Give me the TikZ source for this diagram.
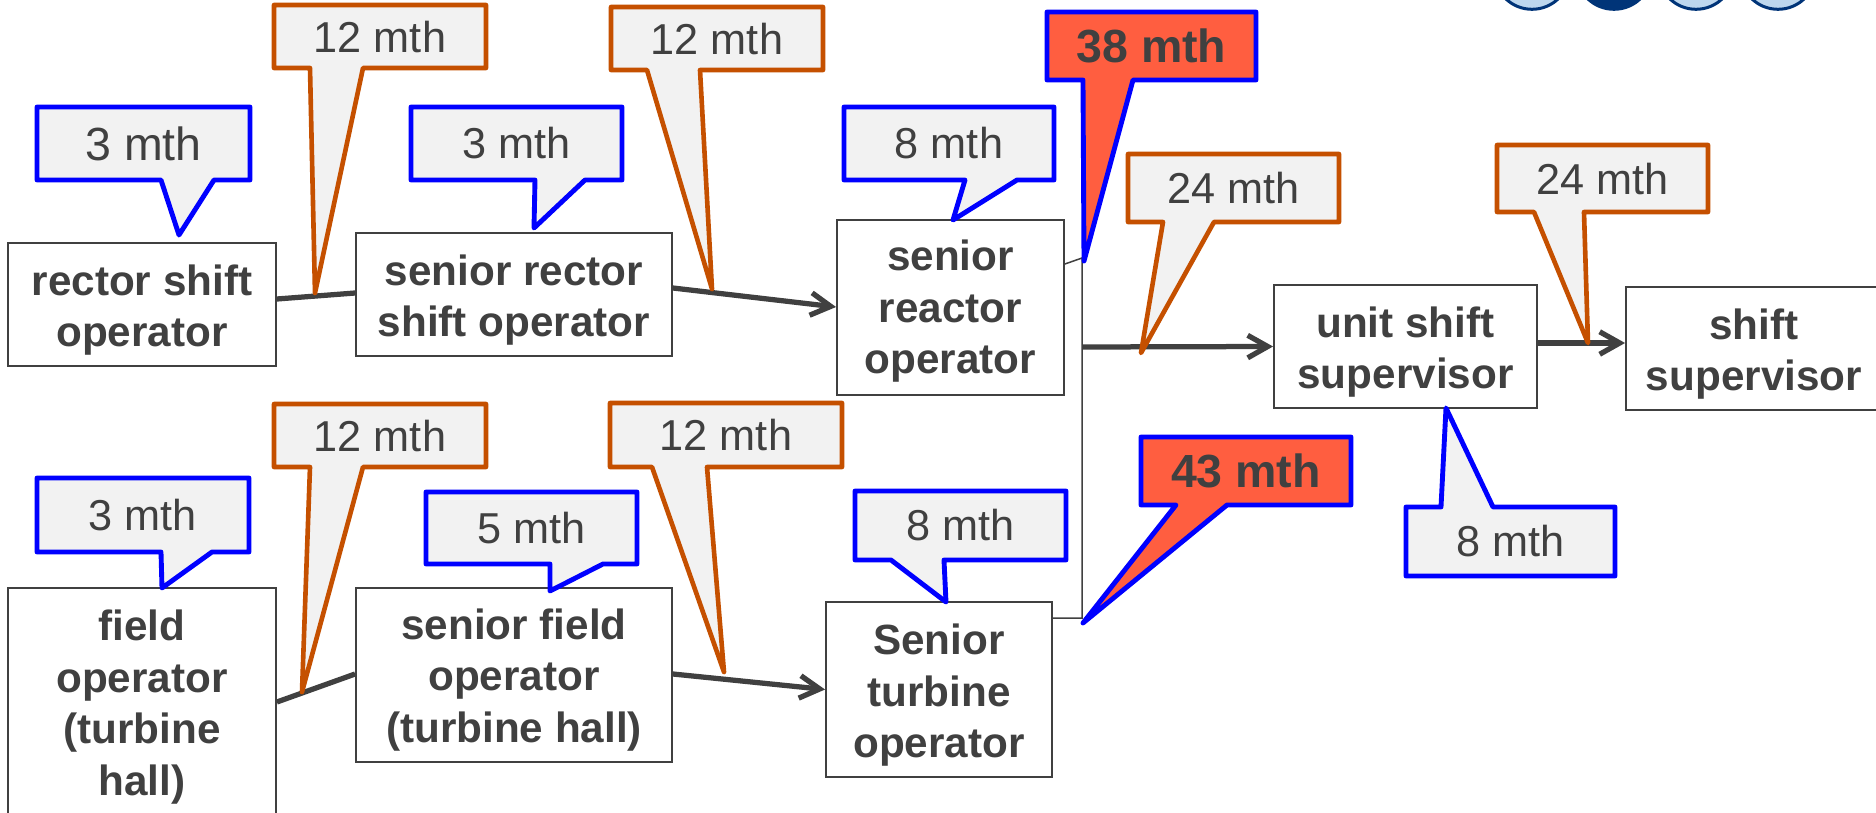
\documentclass[tikz,border=0pt]{standalone}
\usepackage{fontspec}
\setmainfont{Liberation Sans}
\usetikzlibrary{arrows.meta}
\definecolor{txt}{HTML}{404040}
\definecolor{cfill}{HTML}{F2F2F2}
\definecolor{cblue}{HTML}{0000FF}
\definecolor{corange}{HTML}{C55000}
\definecolor{cred}{HTML}{FF5E40}
\definecolor{navy}{HTML}{003478}
\definecolor{lblue}{HTML}{BDD7EE}
\definecolor{boxline}{HTML}{404040}
\def\u{0.4pt}
\newcommand\callD[9]{%
  \draw[#1] (#3,#4) -- (#5,#4) -- (#5,#6) -- (#8,#6) -- #9 -- (#7,#6) -- (#3,#6) -- cycle;
  \coordinate (#2) at ({(#3+#5)/2},{(#4+#6)/2});}
\tikzset{
 box/.style={draw=boxline, line width=0.75pt, fill=white, inner sep=0pt},
 boxtext/.style={inner sep=0pt, align=center, text=txt,
   font=\bfseries\fontsize{16.9}{20.6}\selectfont},
 conn/.style={draw=txt, line width=2.1pt},
 arr/.style={conn, -{Straight Barb[length=8pt,width=9pt]}},
 thinconn/.style={draw=boxline, line width=0.6pt},
 bluecall/.style={fill=cfill, draw=cblue, line width=1.95pt, line join=round},
 orcall/.style={fill=cfill, draw=corange, line width=1.85pt, line join=round},
 redcall/.style={fill=cred, draw=cblue, line width=1.95pt, line join=round},
 ctext/.style={text=txt, inner sep=0pt, font=\fontsize{17.3}{20}\selectfont},
 btext/.style={text=txt, inner sep=0pt, font=\fontsize{18.6}{22}\selectfont},
 rtext/.style={text=txt, inner sep=0pt, font=\bfseries\fontsize{18.6}{22}\selectfont},
 circ/.style={fill=lblue, draw=navy, line width=1.2pt},
}
\begin{document}
\begin{tikzpicture}[x=0.4pt,y=-0.4pt]
\useasboundingbox (0,0) rectangle (1876,813);
\clip (0,0) rectangle (1876,813);
\fill[white] (0,0) rectangle (1876,813);

% top-right circles
\draw[circ] (1532,-28.7) circle[radius=15.2pt];
\draw[circ, fill=navy] (1614,-28.7) circle[radius=15.2pt];
\draw[circ] (1696,-28.7) circle[radius=15.2pt];
\draw[circ] (1778,-28.7) circle[radius=15.2pt];

% boxes
\node[box, minimum width=268*\u, minimum height=123*\u] (b1) at (142,304.5) {};
\node[box, minimum width=316*\u, minimum height=123*\u] (b2) at (514,294.5) {};
\node[box, minimum width=227*\u, minimum height=175*\u] (b3) at (950.5,307.5) {};
\node[box, minimum width=263*\u, minimum height=123*\u] (b4) at (1405.5,346.5) {};
\node[box, minimum width=256*\u, minimum height=123*\u] (b5) at (1754,348.5) {};
\node[box, minimum width=268*\u, minimum height=232*\u] (b6) at (142,704) {};
\node[box, minimum width=316*\u, minimum height=174*\u] (b7) at (514,675) {};
\node[box, minimum width=226*\u, minimum height=175*\u] (b8) at (939,689.5) {};

\node[boxtext] (b1t) at ([yshift=-2.3pt]b1.center) {rector shift\\operator};
\node[boxtext] (b2t) at ([yshift=-2.3pt]b2.center) {senior rector\\shift operator};
\node[boxtext] (b3t) at ([yshift=-1.6pt]b3.center) {senior\\reactor\\operator};
\node[boxtext] (b4t) at ([yshift=-2.3pt]b4.center) {unit shift\\supervisor};
\node[boxtext] (b5t) at ([yshift=-2.3pt]b5.center) {shift\\supervisor};
\node[boxtext] (b6t) at ([yshift=-1.2pt]b6.center) {field\\operator\\(turbine\\hall)};
\node[boxtext] (b7t) at ([yshift=-2.0pt]b7.center) {senior field\\operator\\(turbine hall)};
\node[boxtext] (b8t) at ([yshift=-2.3pt]b8.center) {Senior\\turbine\\operator};

% junction coordinates
\coordinate (j1) at (1082,258);
\coordinate (j2) at (1082,618);
\coordinate (j3) at (1082,347);

% connectors
\draw[conn] ([yshift=5.5*\u]b1.east) -- ([yshift=1.5*\u]b2.west);
\draw[arr] ([yshift=6.5*\u]b2.east) -- ([yshift=0.5*\u]b3.west);
\draw[conn] ([yshift=2*\u]b6.east) -- ([yshift=1*\u]b7.west);
\draw[arr] ([yshift=1*\u]b7.east) -- (b8.west);
\draw[thinconn] ([yshift=43.5*\u]b3.east) -- (j1) -- (j2) -- ([yshift=71.5*\u]b8.east);
\draw[arr] (j3) -- (b4.west);
\draw[arr] ([yshift=3.5*\u]b4.east) -- ([yshift=5.5*\u]b5.west);

% callouts, top row
\callD{bluecall}{cA}{37}{107}{250}{180}{161}{214}{(179,235)}
\node[btext] (tA) at (cA) {3 mth};
\callD{orcall}{cO1}{274}{5}{486}{68}{310}{363}{(315,293)}
\node[ctext] (tO1) at (cO1) {12 mth};
\callD{bluecall}{cB}{411}{107}{622}{180}{535}{585}{(534,228)}
\node[ctext] (tB) at (cB) {3 mth};
\callD{orcall}{cO2}{611}{7}{823}{70}{647}{700}{(712,289)}
\node[ctext] (tO2) at (cO2) {12 mth};
\callD{bluecall}{cG}{844}{107}{1054}{180}{965}{1017}{(953,220)}
\node[ctext] (tG) at (cG) {8 mth};
\callD{redcall}{cR1}{1047}{12}{1256}{80}{1083}{1133}{(1084,261)}
\node[rtext] (tR1) at (cR1) {38 mth};
\callD{orcall}{cO3}{1128}{154}{1339}{222}{1163}{1214}{(1141,353)}
\node[ctext] (tO3) at (cO3) {24 mth};
\callD{orcall}{cO4}{1497}{145}{1708}{212}{1534}{1584}{(1588,343)}
\node[ctext] (tO4) at (cO4) {24 mth};

% callouts, bottom row
\callD{bluecall}{cC}{37}{478}{249}{552}{161}{212}{(162,588)}
\node[ctext] (tC) at (cC) {3 mth};
\callD{orcall}{cO5}{274}{404}{486}{467}{310}{363}{(302,692)}
\node[ctext] (tO5) at (cO5) {12 mth};
\callD{bluecall}{cD}{426}{492}{637}{564}{550}{603}{(550,591)}
\node[ctext] (tD) at (cD) {5 mth};
\callD{orcall}{cO6}{610}{403}{842}{467}{652}{707}{(724,672)}
\node[ctext] (tO6) at (cO6) {12 mth};
\callD{bluecall}{cE}{855}{491}{1066}{560}{891}{944}{(946,602)}
\node[ctext] (tE) at (cE) {8 mth};
\callD{redcall}{cR2}{1141}{437}{1351}{505}{1176}{1227}{(1083,623)}
\node[rtext] (tR2) at (cR2) {43 mth};

% callout pointing up
\draw[bluecall] (1406,507) -- (1441,507) -- (1446,408) -- (1493,507) -- (1615,507) -- (1615,576) -- (1406,576) -- cycle;
\coordinate (cF) at (1510.5,541.5);
\node[ctext] (tF) at (cF) {8 mth};
\end{tikzpicture}
\end{document}
